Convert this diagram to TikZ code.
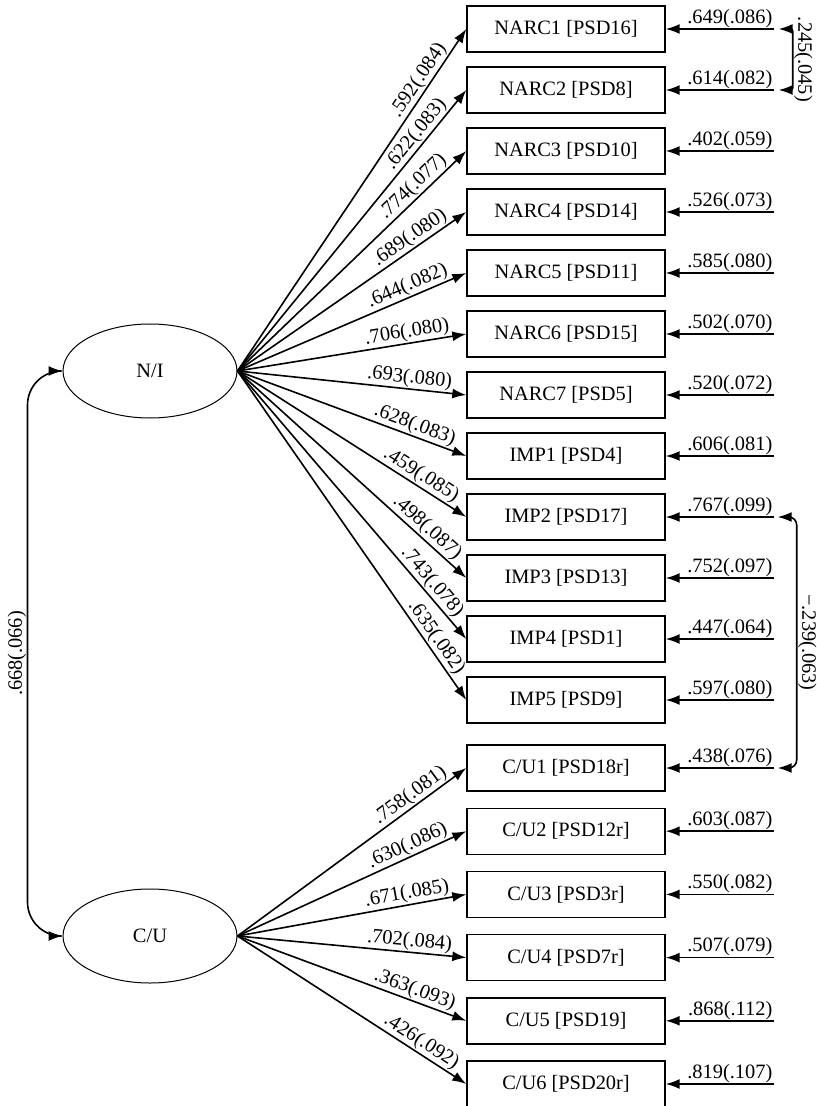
\documentclass[tikz,border=0pt]{standalone}
\usepackage{fontspec}
\setmainfont{Liberation Serif}
\usetikzlibrary{arrows.meta,shapes.geometric}

\begin{document}
\begin{tikzpicture}[
    font=\fontsize{10.2pt}{12pt}\selectfont,
    latent/.style={draw, ellipse, line width=0.5pt, minimum width=87pt, minimum height=47pt, inner sep=0pt},
    item/.style={draw, line width=0.7pt, minimum width=99pt, minimum height=23pt, inner sep=0pt},
    load/.style={draw, line width=0.8pt, -{Latex[length=7pt,width=5pt]}},
    twohead/.style={line width=0.8pt, {Latex[length=7pt,width=5pt]}-{Latex[length=7pt,width=5pt]}},
    loadlbl/.style={sloped, pos=0.94, anchor=south east, inner sep=0.5pt},
    errlbl/.style={pos=0, anchor=south east, inner sep=0.3pt},
    covlbl/.style={sloped, pos=0.25, anchor=south, inner sep=0.3pt}
]
    \useasboundingbox (0,0) rectangle (408.5pt,-553pt);

    % narcissism / impulsivity
    \node [latent] (ni) at (75pt,-185.5pt) {N/I}
        [grow'=right, level distance=208pt, sibling distance=30.5pt,
         parent anchor=east, child anchor=west, edge from parent/.style={load},
         every child node/.style={item, yshift=3.25pt}]
        child {node (narc1) {NARC1 [PSD16]} edge from parent node [loadlbl] {.592(.084)}}
        child {node (narc2) {NARC2 [PSD8]} edge from parent node [loadlbl] {.622(.083)}}
        child {node (narc3) {NARC3 [PSD10]} edge from parent node [loadlbl] {.774(.077)}}
        child {node (narc4) {NARC4 [PSD14]} edge from parent node [loadlbl] {.689(.080)}}
        child {node (narc5) {NARC5 [PSD11]} edge from parent node [loadlbl] {.644(.082)}}
        child {node (narc6) {NARC6 [PSD15]} edge from parent node [loadlbl] {.706(.080)}}
        child {node (narc7) {NARC7 [PSD5]} edge from parent node [loadlbl] {.693(.080)}}
        child {node (imp1) {IMP1 [PSD4]} edge from parent node [loadlbl] {.628(.083)}}
        child {node (imp2) {IMP2 [PSD17]} edge from parent node [loadlbl] {.459(.085)}}
        child {node (imp3) {IMP3 [PSD13]} edge from parent node [loadlbl] {.498(.087)}}
        child {node (imp4) {IMP4 [PSD1]} edge from parent node [loadlbl] {.743(.078)}}
        child {node (imp5) {IMP5 [PSD9]} edge from parent node [loadlbl] {.635(.082)}}
        ;

    % callous / unemotional
    \node [latent] (cu) at (75pt,-468pt) {C/U}
        [grow'=right, level distance=208pt, sibling distance=31.6pt,
         parent anchor=east, child anchor=west, edge from parent/.style={load},
         every child node/.style={item, yshift=5pt}]
        child {node (cu1) {C/U1 [PSD18r]} edge from parent node [loadlbl] {.758(.081)}}
        child {node (cu2) {C/U2 [PSD12r]} edge from parent node [loadlbl] {.630(.086)}}
        child {node (cu3) {C/U3 [PSD3r]} edge from parent node [loadlbl] {.671(.085)}}
        child {node (cu4) {C/U4 [PSD7r]} edge from parent node [loadlbl] {.702(.084)}}
        child {node (cu5) {C/U5 [PSD19]} edge from parent node [loadlbl] {.363(.093)}}
        child {node (cu6) {C/U6 [PSD20r]} edge from parent node [loadlbl] {.426(.092)}}
        ;

    % error variances
    \foreach \n/\v in {narc1/.649(.086), narc2/.614(.082), narc3/.402(.059), narc4/.526(.073),
                       narc5/.585(.080), narc6/.502(.070), narc7/.520(.072), imp1/.606(.081),
                       imp2/.767(.099), imp3/.752(.097), imp4/.447(.064), imp5/.597(.080),
                       cu1/.438(.076), cu2/.603(.087), cu3/.550(.082), cu4/.507(.079),
                       cu5/.868(.112), cu6/.819(.107)} {
        \coordinate (\n e) at ([xshift=54pt]\n.east);
        \draw [load] (\n e) -- node [errlbl] {\v} (\n);
    }

    % covariances
    \draw [twohead, rounded corners=17pt] (cu.west) -- ++(-17.5pt,0) |- node [covlbl] {.668(.066)} (ni.west);
    \draw [twohead, rounded corners=1pt] ([xshift=2.5pt]narc1e) -- ++(7pt,0) |- node [covlbl] {.245(.045)} ([xshift=2.5pt]narc2e);
    \draw [twohead, rounded corners=4pt] ([xshift=2pt]imp2e) -- ++(9.5pt,0) |- node [covlbl] {−.239(.063)} ([xshift=2pt]cu1e);
\end{tikzpicture}
\end{document}
